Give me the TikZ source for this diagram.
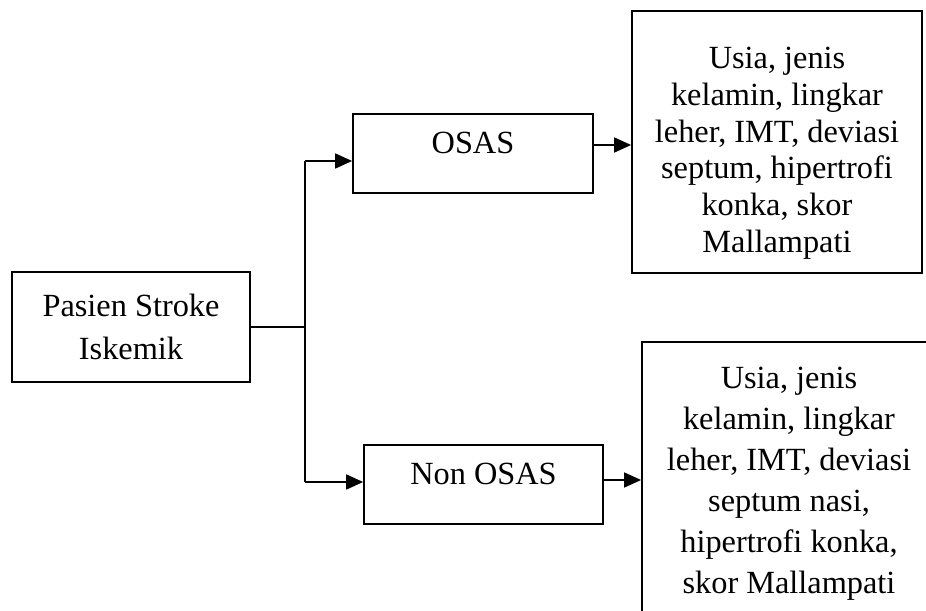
\documentclass[tikz,border=0pt]{standalone}
\usepackage{fontspec}
\setmainfont{Liberation Serif}
\usetikzlibrary{arrows.meta}

\begin{document}
\begin{tikzpicture}[
    box/.style={draw,line width=1pt,align=center,inner sep=0pt,font=\fontsize{18.4}{21}\selectfont},
    arr/.style={line width=1pt,-{Triangle[length=0.34cm,width=0.3cm]}}
]
\path[use as bounding box,clip] (0,0) rectangle (18.52,12.2);

\node[box,minimum width=4.76cm,minimum height=2.2cm,font=\fontsize{18.4}{24.5}\selectfont] (pasien) at (2.62,5.66) {Pasien Stroke\\Iskemik};

\node[box,minimum width=4.8cm,minimum height=1.58cm,text height=12pt,text depth=12pt] (osas) at (9.46,9.13) {OSAS};
\node[box,minimum width=4.78cm,minimum height=1.58cm,text height=12pt,text depth=12pt] (nonosas) at (9.67,2.51) {Non OSAS};

\node[box,minimum width=5.8cm,minimum height=5.24cm] (topbox) at (15.54,9.36) % OSAS
    {\rule{0pt}{25pt}Usia, jenis\\kelamin, lingkar\\leher, IMT, deviasi\\septum, hipertrofi\\konka, skor\\Mallampati};
\node[box,minimum width=5.88cm,minimum height=5.66cm,font=\fontsize{18.4}{23.3}\selectfont] (botbox) at (15.78,2.53) % Non OSAS
    {Usia, jenis\\kelamin, lingkar\\leher, IMT, deviasi\\septum nasi,\\hipertrofi konka,\\skor Mallampati};

\coordinate (jmid) at (6.1,5.66);
\coordinate (jtop) at (6.1,8.98);
\coordinate (jbot) at (6.1,2.56);
\coordinate (oout) at ([yshift=0.17cm]osas.east);
\coordinate (nout) at ([yshift=0.09cm]nonosas.east);

\draw[line width=1pt] (pasien.east) -- (jmid);
\draw[line width=1pt] (jtop) -- (jbot);
\draw[arr] (jtop) -- (jtop -| osas.west);
\draw[arr] (jbot) -- (jbot -| nonosas.west);
\draw[arr] (oout) -- (oout -| topbox.west);
\draw[arr] (nout) -- (nout -| botbox.west);

\end{tikzpicture}
\end{document}
